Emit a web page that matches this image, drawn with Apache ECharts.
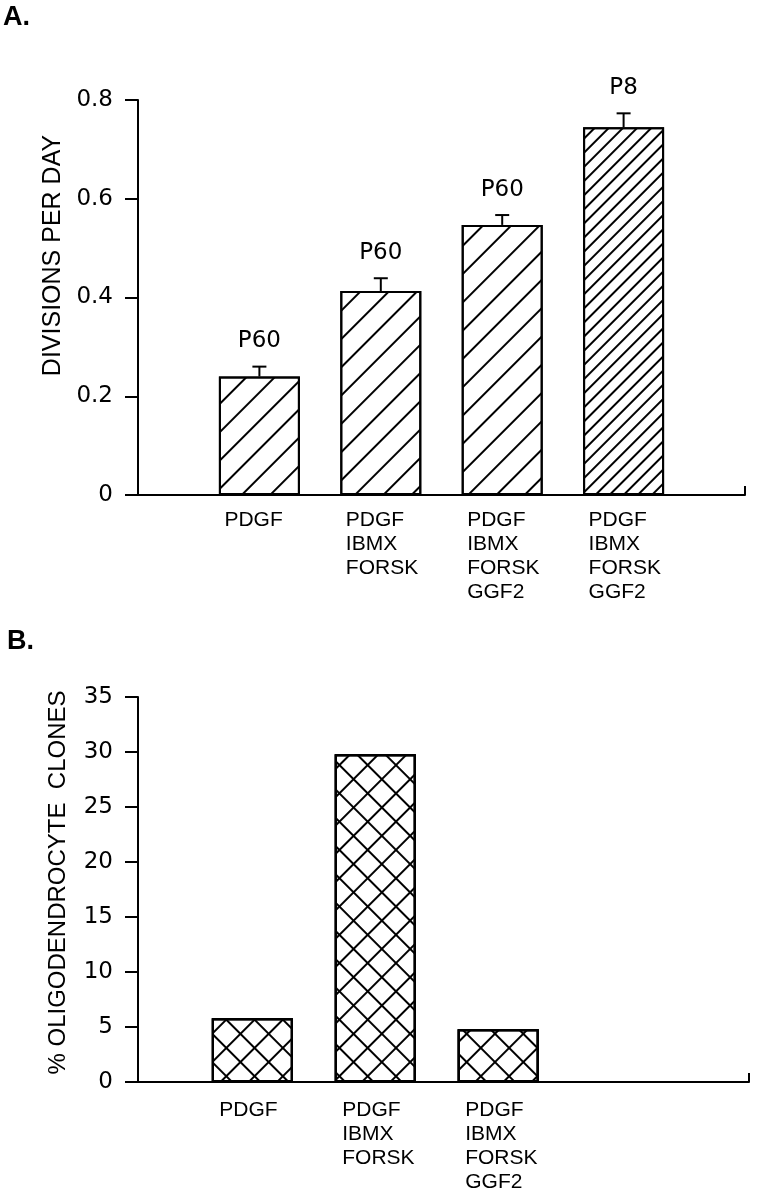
<!DOCTYPE html>
<html>
<head>
<meta charset="utf-8">
<script src="https://cdn.jsdelivr.net/npm/echarts@6/dist/echarts.min.js"></script>
<style>
  html, body { margin: 0; background: #fff; }
  #chart { width: 757px; height: 1199px; }
</style>
</head>
<body>
<div id="chart"></div>
<script>
// panel A - division rate
const groupsA = ['PDGF', 'PDGF\nIBMX\nFORSK', 'PDGF\nIBMX\nFORSK\nGGF2', 'PDGF\nIBMX\nFORSK\nGGF2']
const divisionsPerDay = [0.24, 0.413, 0.547, 0.745]
const divisionsErr = [0.02, 0.026, 0.02, 0.028]
const passage = ['P60', 'P60', 'P60', 'P8']
const ticksA = [0, 0.2, 0.4, 0.6, 0.8]

// panel B - oligodendrocyte clones
const groupsB = ['PDGF', 'PDGF\nIBMX\nFORSK', 'PDGF\nIBMX\nFORSK\nGGF2']
const oligoClones = [5.8, 29.8, 4.8]
const ticksB = [0, 5, 10, 15, 20, 25, 30, 35]

const black = '#000'
const catFont = 'Liberation Sans, Arial, sans-serif'
const numFont = 'DejaVu Sans, sans-serif'

// hatch patterns
const hatch = (gap, rot) => ({
  symbol: 'rect',
  symbolSize: 1,
  color: black,
  dashArrayX: [1, 0],
  dashArrayY: [2, gap],
  rotation: rot,
})
const slash = hatch(18, -Math.PI / 4)
const slashDense = hatch(8, -Math.PI / 4)
const backslash = hatch(18, Math.PI / 4)

const richLabel = (name) => name.split('\n').map((s) => '{a|' + s + '}').join('\n')

function xAxisFor(gridIndex, min, max, names, width, margin) {
  return {
    gridIndex,
    type: 'value',
    min,
    max,
    axisLine: { show: true, onZero: false, lineStyle: { color: black, width: 2 } },
    axisTick: { show: true, customValues: [max], inside: true, length: 9, lineStyle: { color: black, width: 2 } },
    splitLine: { show: false },
    axisLabel: {
      customValues: names.map((_, i) => i + 1),
      formatter: (v) => richLabel(names[Math.round(v) - 1] || ''),
      margin,
      rich: { a: { width, align: 'left', fontSize: 21, lineHeight: 24, fontFamily: catFont, color: black } },
    },
  }
}

function yAxisFor(gridIndex, ticks, name, nameSize, nameGap, shift) {
  return {
    gridIndex,
    type: 'value',
    min: ticks[0],
    max: ticks[ticks.length - 1],
    interval: ticks[1] - ticks[0],
    name,
    nameLocation: 'middle',
    nameGap,
    nameTextStyle: { fontSize: nameSize, fontFamily: catFont, color: black, padding: [0, 0, 0, shift] },
    axisLine: { show: true, lineStyle: { color: black, width: 2 } },
    axisTick: { show: true, length: 13, lineStyle: { color: black, width: 2 } },
    splitLine: { show: false },
    axisLabel: { margin: 25, fontSize: 23, fontFamily: numFont, color: black },
  }
}

const barBase = {
  type: 'bar',
  barWidth: 81,
  itemStyle: { color: '#fff', borderColor: black, borderWidth: 2 },
}

const option = {
  backgroundColor: '#fff',
  animation: false,
  title: [
    { text: 'A.', left: 3, top: 4, padding: 0, textStyle: { fontSize: 27, fontWeight: 'bold', fontFamily: catFont, color: black } },
    { text: 'B.', left: 7, top: 628, padding: 0, textStyle: { fontSize: 27, fontWeight: 'bold', fontFamily: catFont, color: black } },
  ],
  grid: [
    { left: 138, top: 100, width: 607, height: 395 },
    { left: 138, top: 697, width: 611, height: 385 },
  ],
  xAxis: [
    xAxisFor(0, 0, 5, groupsA, 70, 13),
    xAxisFor(1, 0.07, 5.04, groupsB, 66, 16),
  ],
  yAxis: [
    yAxisFor(0, ticksA, 'DIVISIONS PER DAY', 25, 70, 84),
    yAxisFor(1, ticksB, '% OLIGODENDROCYTE  CLONES', 24, 68, 14),
  ],
  series: [
    {
      ...barBase,
      xAxisIndex: 0,
      yAxisIndex: 0,
      data: divisionsPerDay.map((v, i) => ({
        value: [i + 1, v],
        itemStyle: { decal: i === 3 ? slashDense : slash },
      })),
    },
    {
      type: 'custom',
      xAxisIndex: 0,
      yAxisIndex: 0,
      z: 5,
      data: divisionsPerDay.map((v, i) => [i + 1, v, divisionsErr[i]]),
      renderItem: (params, api) => {
        const x = api.value(0)
        const v = api.value(1)
        const e = api.value(2)
        const p0 = api.coord([x, v])
        const p1 = api.coord([x, v + e])
        const ls = { stroke: black, lineWidth: 2 }
        return {
          type: 'group',
          children: [
            { type: 'line', shape: { x1: p0[0], y1: p0[1], x2: p1[0], y2: p1[1] }, style: ls },
            { type: 'line', shape: { x1: p1[0] - 7, y1: p1[1], x2: p1[0] + 7, y2: p1[1] }, style: ls },
            {
              type: 'text',
              style: {
                text: passage[params.dataIndex],
                x: p1[0],
                y: p1[1] - 14,
                align: 'center',
                verticalAlign: 'bottom',
                font: '23px ' + numFont,
                fill: black,
              },
            },
          ],
        }
      },
    },
    {
      ...barBase,
      xAxisIndex: 1,
      yAxisIndex: 1,
      data: oligoClones.map((v, i) => [i + 1, v]),
      itemStyle: { ...barBase.itemStyle, decal: slash },
    },
    {
      ...barBase,
      xAxisIndex: 1,
      yAxisIndex: 1,
      barGap: '-100%',
      data: oligoClones.map((v, i) => [i + 1, v]),
      itemStyle: { color: 'transparent', borderColor: black, borderWidth: 2, decal: backslash },
    },
  ],
}

const chart = echarts.init(document.getElementById('chart'))
chart.setOption(option)
</script>
</body>
</html>
